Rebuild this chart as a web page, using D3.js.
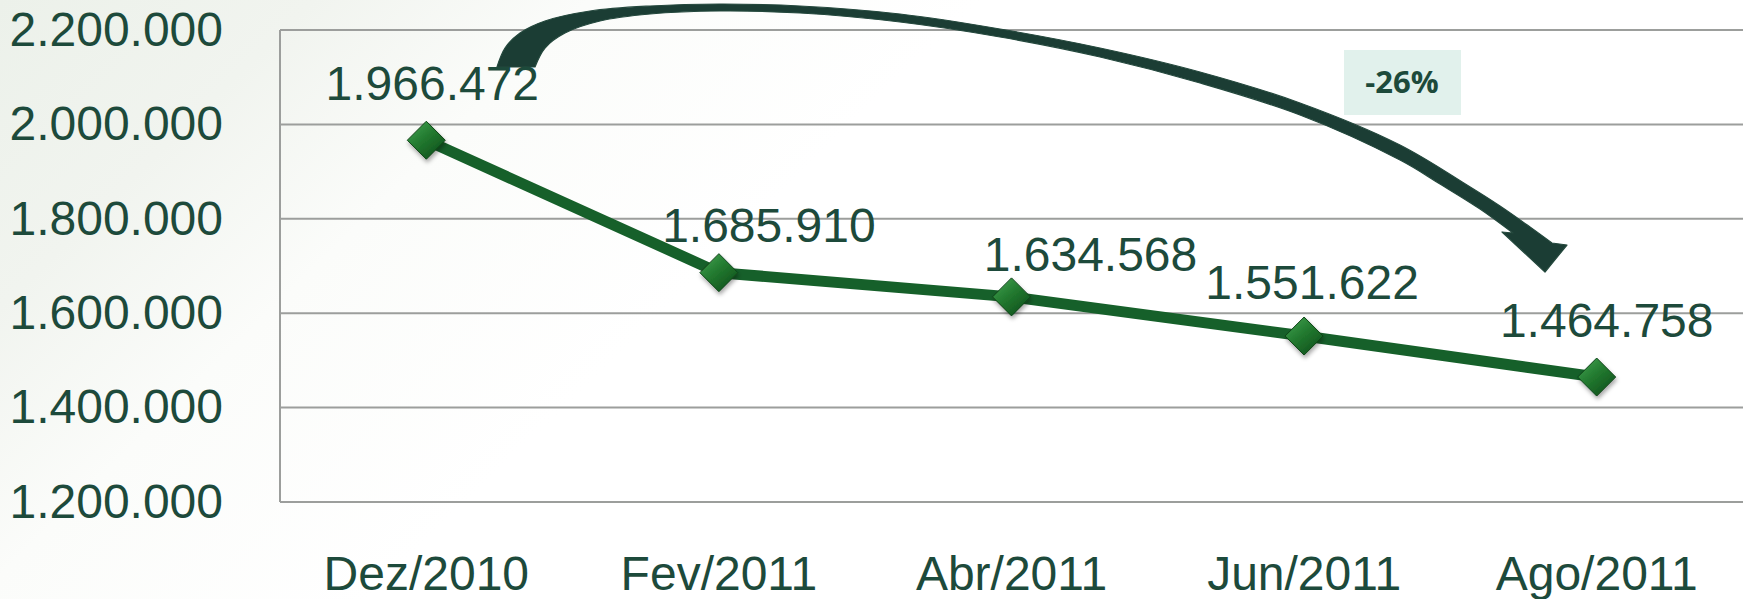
<!DOCTYPE html>
<html>
<head>
<meta charset="utf-8">
<script src="https://cdn.jsdelivr.net/npm/d3@7"></script>
<style>
  html, body { margin: 0; padding: 0; }
  body { width: 1748px; height: 599px; overflow: hidden; background: #fff; }
  svg { display: block; }
</style>
</head>
<body>
<div id="chart"></div>
<script>
// Evolução mensal — série única

const categories = ["Dez/2010", "Fev/2011", "Abr/2011", "Jun/2011", "Ago/2011"];
const values     = [1966472, 1685910, 1634568, 1551622, 1464758];
const yTicks     = [1200000, 1400000, 1600000, 1800000, 2000000, 2200000];
const changeLabel = "-26%";

// décalage manuel des étiquettes (dx, dy depuis le point)
const labelOffsets = [[6, -40], [50, -31], [79, -26], [8, -37], [10, -40]];

const width = 1748;
const height = 599;
const plot = { left: 280, right: 1743, top: 30, bottom: 502 };

const textColor = "#1d4a3b";
const lineColor = "#16602a";
const font = "'Liberation Sans', Arial, sans-serif";
const fontSize = "48px";

const ptBR = d3.formatLocale({ decimal: ",", thousands: ".", grouping: [3], currency: ["R$", ""] });
const fmt = ptBR.format(",d");

const svg = d3.select("#chart")
  .append("svg")
  .attr("width", width)
  .attr("height", height);

const defs = svg.append("defs");

// fond : dégradé clair vers blanc
const bg = defs.append("linearGradient")
  .attr("id", "bg")
  .attr("x1", "0").attr("y1", "0")
  .attr("x2", "1").attr("y2", "0.35");
bg.append("stop").attr("offset", "0").attr("stop-color", "#ecf1ea");
bg.append("stop").attr("offset", "0.16").attr("stop-color", "#f1f4ef");
bg.append("stop").attr("offset", "0.3").attr("stop-color", "#fbfcfa");
bg.append("stop").attr("offset", "0.5").attr("stop-color", "#ffffff");

const mk = defs.append("linearGradient")
  .attr("id", "mk")
  .attr("x1", "0").attr("y1", "0")
  .attr("x2", "0.8").attr("y2", "1");
mk.append("stop").attr("offset", "0").attr("stop-color", "#45a653");
mk.append("stop").attr("offset", "0.5").attr("stop-color", "#22792f");
mk.append("stop").attr("offset", "1").attr("stop-color", "#10501c");

const shadow = defs.append("filter").attr("id", "shadow")
  .attr("x", "-50%").attr("y", "-50%").attr("width", "200%").attr("height", "200%");
shadow.append("feDropShadow")
  .attr("dx", 1).attr("dy", 3).attr("stdDeviation", 2)
  .attr("flood-color", "#000").attr("flood-opacity", 0.35);

svg.append("rect")
  .attr("width", width)
  .attr("height", height)
  .attr("fill", "url(#bg)");

// Échelles
const x = d3.scaleBand().domain(categories).range([plot.left, plot.right]);
const cx = c => x(c) + x.bandwidth() / 2;
const y = d3.scaleLinear().domain([1200000, 2200000]).range([plot.bottom, plot.top]);

// Grille
svg.append("g")
  .selectAll("line")
  .data(yTicks)
  .join("line")
  .attr("x1", plot.left)
  .attr("x2", plot.right)
  .attr("y1", d => y(d))
  .attr("y2", d => y(d))
  .attr("stroke", "#9c9e9c")
  .attr("stroke-width", 2);

svg.append("line")
  .attr("x1", plot.left).attr("x2", plot.left)
  .attr("y1", plot.top).attr("y2", plot.bottom)
  .attr("stroke", "#9c9e9c")
  .attr("stroke-width", 2);

// Axe Y
const yAxis = svg.append("g")
  .attr("transform", `translate(${plot.left},0)`)
  .call(d3.axisLeft(y).tickValues(yTicks).tickFormat(fmt).tickSize(0).tickPadding(57));
yAxis.select(".domain").remove();
yAxis.selectAll("text")
  .attr("fill", textColor)
  .style("font-family", font)
  .style("font-size", fontSize);

// Axe X
const xAxis = svg.append("g")
  .attr("transform", `translate(0,${plot.bottom})`)
  .call(d3.axisBottom(x).tickSize(0).tickPadding(54));
xAxis.select(".domain").remove();
xAxis.selectAll("text")
  .attr("fill", textColor)
  .style("font-family", font)
  .style("font-size", fontSize);

// Flèche courbe (annotation)
const arrowUpper = [
  [497, 67], [505, 48], [520, 33], [545, 21], [590, 11], [650, 6], [720, 4],
  [800, 6], [900, 14], [1000, 29], [1100, 48], [1200, 72], [1300, 103],
  [1400, 145], [1467, 185], [1500, 206], [1530, 227], [1552, 243]
];
const arrowHead = [[1567, 245], [1545, 272], [1502, 232]];
const arrowLower = [
  [1513, 233], [1480, 209], [1440, 184], [1400, 160], [1300, 115], [1200, 83],
  [1100, 57], [1000, 37], [900, 22], [800, 13], [720, 11], [650, 14],
  [600, 21], [565, 33], [545, 48], [535, 67]
];
const edge = d3.line().curve(d3.curveCatmullRom.alpha(0.5));
const arrowPath = edge(arrowUpper) +
  arrowHead.map(p => `L${p[0]},${p[1]}`).join("") +
  edge(arrowLower).replace(/^M/, "L") + "Z";

svg.append("path")
  .attr("d", arrowPath)
  .attr("fill", "#1b3d34")
  .attr("stroke", "#24483d")
  .attr("stroke-width", 1.2)
  .attr("stroke-linejoin", "round");

// Encadré du pourcentage
svg.append("rect")
  .attr("x", 1344).attr("y", 50)
  .attr("width", 117).attr("height", 65)
  .attr("fill", "#e1f1ec");
svg.append("text")
  .attr("x", 1402).attr("y", 93)
  .attr("text-anchor", "middle")
  .attr("fill", textColor)
  .style("font-family", "'Open Sans', sans-serif")
  .style("font-weight", "700")
  .style("font-size", "31px")
  .text(changeLabel);

// Série
const points = categories.map((c, i) => ({ cat: c, value: values[i], off: labelOffsets[i] }));

svg.append("path")
  .datum(points)
  .attr("d", d3.line().x(d => cx(d.cat)).y(d => y(d.value)))
  .attr("fill", "none")
  .attr("stroke", lineColor)
  .attr("stroke-width", 11)
  .attr("stroke-linejoin", "round");

const r = 19;
svg.append("g")
  .selectAll("path")
  .data(points)
  .join("path")
  .attr("transform", d => `translate(${cx(d.cat)},${y(d.value)})`)
  .attr("d", `M0,${-r}L${r},0L0,${r}L${-r},0Z`)
  .attr("fill", "url(#mk)")
  .attr("stroke", "#0e4318")
  .attr("stroke-width", 1)
  .attr("filter", "url(#shadow)");

// Étiquettes de valeurs
svg.append("g")
  .selectAll("text")
  .data(points)
  .join("text")
  .attr("x", d => cx(d.cat) + d.off[0])
  .attr("y", d => y(d.value) + d.off[1])
  .attr("text-anchor", "middle")
  .attr("fill", textColor)
  .style("font-family", font)
  .style("font-size", fontSize)
  .text(d => fmt(d.value));
</script>
</body>
</html>
